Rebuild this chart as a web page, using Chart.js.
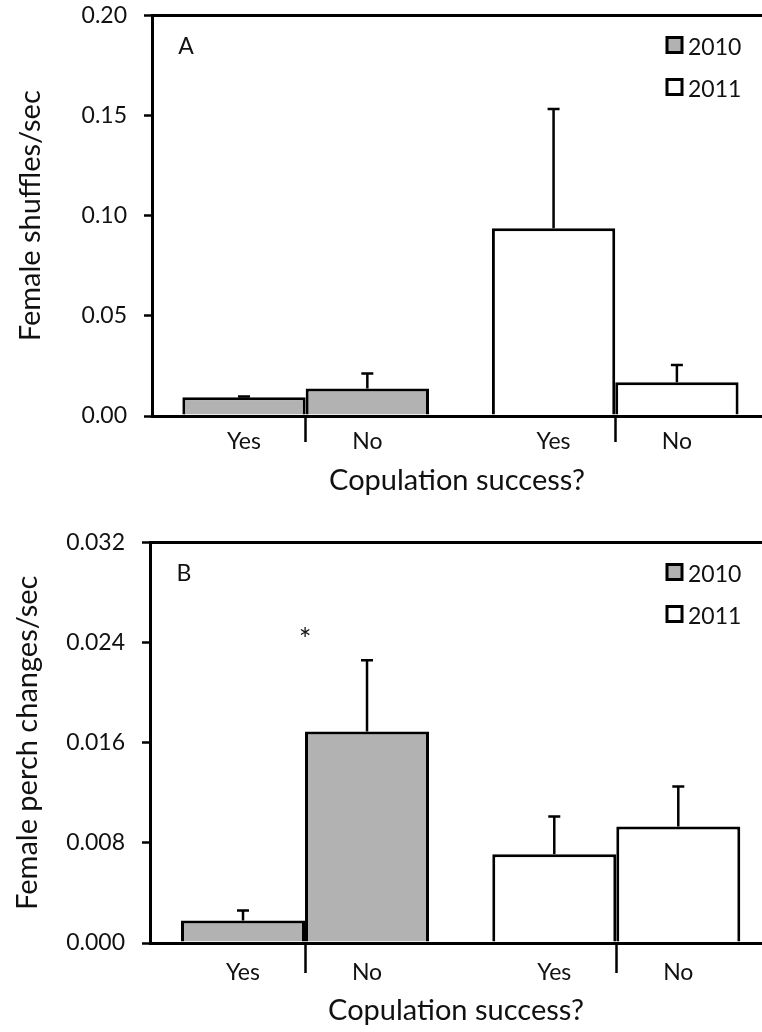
<!DOCTYPE html>
<html>
<head>
<meta charset="utf-8">
<script src="https://cdn.jsdelivr.net/npm/chart.js@4.4.1/dist/chart.umd.min.js"></script>
<style>
  html, body { margin: 0; padding: 0; background: #fff; overflow: hidden; }
  #wrap { position: relative; width: 762px; height: 1032px; overflow: hidden; }
  canvas { position: absolute; left: 0; }
  #shuffles { top: -13px; }
  #perch { top: 514px; }
</style>
</head>
<body>
<div id="wrap">
  <canvas id="shuffles" width="762" height="527"></canvas>
  <canvas id="perch" width="762" height="518"></canvas>
</div>
<script>
// bar slots along x: 2010 Yes, 2010 No, 2011 Yes, 2011 No
var slots = [1, 2, 3.51, 4.51];
var slotLabels = ['Yes', 'No', 'Yes', 'No'];
var separators = [1.5, 4.01];
var years = ['2010', '2011'];
var yearColors = ['#b2b2b2', '#ffffff'];

// panel A: female shuffles/sec, mean and SE
var shufflesMean = [0.0094, 0.0137, 0.0938, 0.0168];
var shufflesSE = [0.0004, 0.0075, 0.0595, 0.0087];
var shufflesTicks = [0, 0.05, 0.10, 0.15, 0.20];

// panel B: female perch changes/sec, mean and SE
var perchMean = [0.0018, 0.0169, 0.0071, 0.0093];
var perchSE = [0.0008, 0.0057, 0.0030, 0.0032];
var perchTicks = [0, 0.008, 0.016, 0.024, 0.032];
var perchStars = [{ x: 1.5, y: 0.0242 }];

var FONT = 'Lato, "Open Sans", sans-serif';
var INK = '#111';
var CLEAR = 'rgba(0,0,0,0)';

var errorBars = {
  id: 'errorBars',
  afterDatasetsDraw: function(chart){
    var ctx = chart.ctx, y = chart.scales.y;
    chart.data.datasets.forEach(function(ds, di){
      var meta = chart.getDatasetMeta(di);
      meta.data.forEach(function(bar, i){
        var top = y.getPixelForValue(ds.data[i].y + ds.se[i]);
        ctx.save();
        ctx.strokeStyle = '#000';
        ctx.lineWidth = 2.5;
        ctx.beginPath();
        ctx.moveTo(bar.x, bar.y);
        ctx.lineTo(bar.x, top);
        ctx.moveTo(bar.x - 6, top);
        ctx.lineTo(bar.x + 6, top);
        ctx.stroke();
        ctx.restore();
      });
    });
  }
};

var panelText = {
  id: 'panelText',
  afterDraw: function(chart, args, opts){
    var ctx = chart.ctx, area = chart.chartArea;
    ctx.save();
    ctx.fillStyle = INK;
    ctx.textBaseline = 'middle';
    ctx.textAlign = 'center';
    ctx.font = '23px ' + FONT;
    ctx.fillText(opts.letter, area.left + 34, area.top + 31);
    ctx.font = '30px ' + FONT;
    (opts.stars || []).forEach(function(s){
      ctx.fillText('*', chart.scales.x.getPixelForValue(s.x), chart.scales.y.getPixelForValue(s.y));
    });
    // legend
    ctx.font = '23px ' + FONT;
    ctx.textAlign = 'left';
    years.forEach(function(yr, i){
      var bx = area.right - 95, by = area.top + 22 + i * 42;
      ctx.fillStyle = yearColors[i];
      ctx.fillRect(bx, by, 15, 15);
      ctx.strokeStyle = '#000';
      ctx.lineWidth = 3;
      ctx.strokeRect(bx, by, 15, 15);
      ctx.fillStyle = INK;
      ctx.fillText(yr, bx + 21, by + 10);
    });
    ctx.restore();
  }
};

function isSeparator(c){
  return !!(c.tick && separators.indexOf(c.tick.value) >= 0);
}

function makeChart(id, cfg){
  var datasets = years.map(function(yr, j){
    var idx = [2 * j, 2 * j + 1];
    return {
      label: yr,
      data: idx.map(function(i){ return { x: slots[i], y: cfg.mean[i] }; }),
      se: idx.map(function(i){ return cfg.se[i]; }),
      backgroundColor: yearColors[j],
      borderColor: '#000',
      borderWidth: 3,
      grouped: false,
      // the separator ticks halve the sample spacing, so bars span 2x of it
      barPercentage: 2,
      categoryPercentage: 1
    };
  });
  var yMax = cfg.ticks[cfg.ticks.length - 1];

  return new Chart(document.getElementById(id), {
    type: 'bar',
    data: { datasets: datasets },
    plugins: [errorBars, panelText],
    options: {
      responsive: false,
      animation: false,
      layout: { padding: cfg.padding },
      plugins: {
        legend: { display: false },
        tooltip: { enabled: false },
        panelText: { letter: cfg.letter, stars: cfg.stars }
      },
      scales: {
        x: {
          type: 'linear',
          offset: false,
          min: cfg.xMin, max: cfg.xMax,
          afterBuildTicks: function(s){
            s.ticks = slots.concat(separators).sort(function(a, b){ return a - b; })
              .map(function(v){ return { value: v }; });
          },
          afterFit: function(s){ s.height = cfg.xHeight; },
          ticks: {
            autoSkip: false, maxRotation: 0,
            padding: cfg.labelPad,
            color: INK,
            font: { family: FONT, size: 23, lineHeight: 1 },
            callback: function(v){
              var i = slots.indexOf(v);
              return i < 0 ? '' : slotLabels[i];
            }
          },
          grid: {
            offset: false,
            drawOnChartArea: false,
            tickLength: cfg.sepLength,
            tickWidth: 2.5,
            color: CLEAR,
            tickColor: function(c){ return isSeparator(c) ? '#000' : CLEAR; }
          },
          border: { color: '#000', width: 3 },
          title: {
            display: true, text: 'Copulation success?', color: INK,
            font: { family: FONT, size: 29, lineHeight: 1 },
            padding: { top: 0, bottom: cfg.titlePad }
          }
        },
        y: {
          min: 0, max: yMax,
          afterBuildTicks: function(s){ s.ticks = cfg.ticks.map(function(v){ return { value: v }; }); },
          afterFit: function(s){ s.width = cfg.yWidth; },
          ticks: {
            padding: 17, color: INK,
            font: { family: FONT, size: 23, lineHeight: 1 },
            callback: function(v){ return Number(v).toFixed(cfg.decimals); }
          },
          grid: {
            lineWidth: 3,
            tickLength: 8,
            tickWidth: 2.5,
            tickColor: '#000',
            color: function(c){ return c.tick && c.tick.value === yMax ? '#000' : CLEAR; }
          },
          border: { color: '#000', width: 3 },
          title: {
            display: true, text: cfg.yTitle, color: INK,
            font: { family: FONT, size: 29, lineHeight: 1 },
            padding: { top: 0, bottom: 0 }
          }
        }
      }
    }
  });
}

makeChart('shuffles', {
  mean: shufflesMean, se: shufflesSE, ticks: shufflesTicks, decimals: 2,
  yTitle: 'Female shuffles/sec', letter: 'A', stars: [],
  xMin: 0.254, xMax: 5.2, yWidth: 136, xHeight: 90,
  padding: { top: 0, left: 16, right: 0, bottom: 8 },
  sepLength: 26, labelPad: -11.5, titlePad: 10.5
});

makeChart('perch', {
  mean: perchMean, se: perchSE, ticks: perchTicks, decimals: 3,
  yTitle: 'Female perch changes/sec', letter: 'B', stars: perchStars,
  xMin: 0.25, xMax: 5.185, yWidth: 137, xHeight: 82,
  padding: { top: 0, left: 13, right: 0, bottom: 7 },
  sepLength: 30, labelPad: -11.5, titlePad: 0
});
</script>
</body>
</html>
